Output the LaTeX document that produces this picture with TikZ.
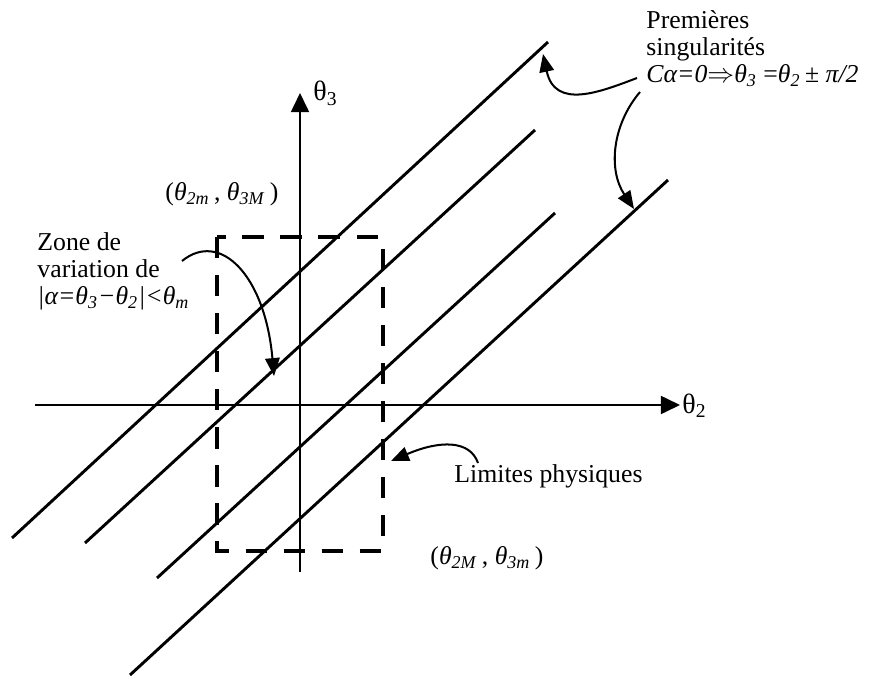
\documentclass[tikz,border=0pt]{standalone}
\usepackage{fontspec}
\setmainfont{Liberation Serif}
\usetikzlibrary{arrows.meta}
\newcommand{\thsub}[1]{\textit{θ}\textsubscript{\textit{#1}}}
\tikzset{
  bigtri/.style={-{Triangle[length=8.5pt,width=8pt]}},
  physline/.style={line width=1.3pt},
  callout/.style={line width=0.9pt,-{Triangle[length=8pt,width=6.5pt]}},
  txt/.style={inner sep=0pt,font=\fontsize{11.5}{12}\selectfont,align=left},
}

\begin{document}
\begin{tikzpicture}[x=0.4467pt,y=-0.4467pt]
    \useasboundingbox (0,0) rectangle (871,678);
    % axes theta2 / theta3
    \coordinate (xl) at (35,405);
    \coordinate (xr) at (680,405);
    \coordinate (yb) at (300,572);
    \coordinate (yt) at (300,93);
    \draw[line width=0.9pt,bigtri] (xl) -- (xr);
    \draw[line width=0.9pt,bigtri] (yb) -- (yt);
    \node[txt,anchor=base west,font=\fontsize{12.5}{13}\selectfont] (th2) at (682,413) {θ\textsubscript{2}};
    \node[txt,anchor=base west,font=\fontsize{12.5}{13}\selectfont] (th3) at (313,101) {θ\textsubscript{3}};
    % singular lines
    \foreach \n/\xa/\ya/\xb/\yb in {1/12/538/548/42, 2/85/543/535/130,
                                    3/157/578/555/213, 4/130/675/668/180}
        \draw[physline] (\xa,\ya) coordinate (l\n a) -- (\xb,\yb) coordinate (l\n b);
    % physical limits
    \draw[line width=2pt,dash pattern=on 9.5pt off 7.5pt]
        (217,237) coordinate (rtl) rectangle (383,551) coordinate (rbr);
    \node[txt,anchor=base west] (pmax) at (165,200) {(\thsub{2m}\,, \thsub{3M}\,)};
    \node[txt,anchor=base west] (pmin) at (430,564) {(\thsub{2M}\,, \thsub{3m}\,)};
    % labels
    \node[txt,anchor=north west] (sing) at (646,10)
        {Premières\\singularités\\\textit{Cα=0}$\Rightarrow$\thsub{3} =\thsub{2}\,± \textit{π/2}};
    \node[txt,anchor=north west] (zone) at (37,232)
        {Zone de\\variation de\\\textit{|α=}\thsub{3}\textit{−}\thsub{2}\textit{|<}\thsub{m}};
    \node[txt,anchor=base west] (lim) at (454,482) {Limites physiques};
    % callouts
    \coordinate (c1) at (637,78);
    \coordinate (c2) at (640,92);
    \coordinate (c3) at (182,261);
    \coordinate (c4) at (478,463);
    \coordinate (e1) at (543,54);
    \coordinate (e2) at (634,209);
    \coordinate (e3) at (274,376);
    \coordinate (e4) at (391,461);
    \draw[callout] (c1) .. controls (600,92) and (555,110) .. (e1);
    \draw[callout] (c2) .. controls (612,125) and (608,170) .. (e2);
    \draw[callout] (c3) .. controls (220,230) and (265,275) .. (e3);
    \draw[callout] (c4) .. controls (470,440) and (440,440) .. (e4);
\end{tikzpicture}
\end{document}
